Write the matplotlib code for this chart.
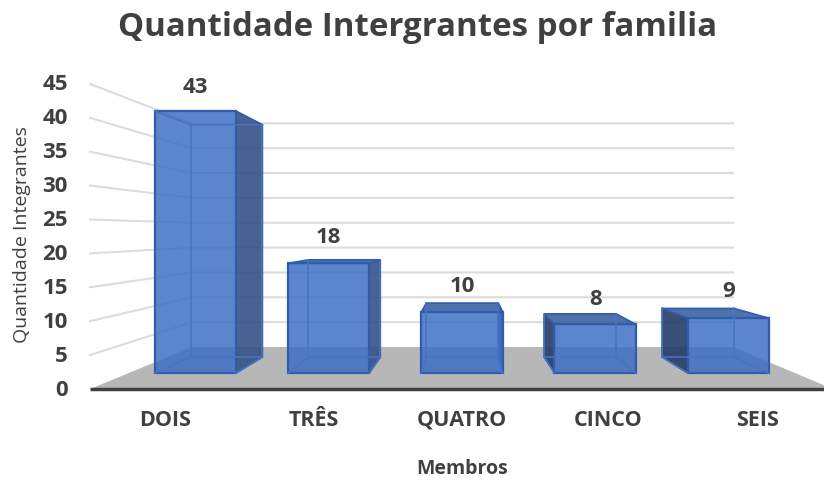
import matplotlib
matplotlib.use('Agg')
import matplotlib.pyplot as plt
from matplotlib.colors import to_rgba
from matplotlib.patches import Polygon

categories = ['DOIS', 'TRÊS', 'QUATRO', 'CINCO', 'SEIS']
values = [43, 18, 10, 8, 9]
y_ticks = [0, 5, 10, 15, 20, 25, 30, 35, 40, 45]

plt.rcParams['font.family'] = ['Open Sans', 'DejaVu Sans']
text_col = '#404040'

fig = plt.figure(figsize=(8.24, 4.8), dpi=100)
ax = fig.add_axes([0, 0, 1, 1])
ax.set_xlim(0, 824)
ax.set_ylim(480, 0)
ax.axis('off')


# perspective: u = 0..1 across, v = value, t = 0 (front) .. 1 (back wall)
def proj(u, v, t):
    left = 90 + t * (192 - 90)
    right = 833 + t * (733 - 833)
    base = 389 + t * (347 - 389)
    scale = 6.78 + t * (4.97 - 6.78)
    return (left + u * (right - left), base - v * scale)


# floor
ax.add_patch(Polygon([proj(0, 0, 0), proj(0, 0, 1), proj(1, 0, 1), proj(1, 0, 0)],
                     fc='#b7b7b7', ec='none', zorder=1))

# gridlines, back wall + left wall
for v in y_ticks[1:]:
    pts = [proj(0, v, 0), proj(0, v, 1), proj(1, v, 1)]
    ax.plot([p[0] for p in pts], [p[1] for p in pts], color='#dcdcdc', lw=1.5, zorder=1)

# axis line
ax.plot([90, 824], [389, 389], color='#404040', lw=2.5, zorder=2, solid_capstyle='butt')

edge = '#2f5cab'
inner = '#4674c4'
face = to_rgba('#3c6ec3', 0.84)
bar_w = 0.122
t_front = 0.38
t_back = 0.76
label_gap = [24, 22, 17, 14, 17]

for i, val in enumerate(values):
    u0 = 0.1 + 0.2 * i - bar_w / 2
    u1 = u0 + bar_w
    # corners: f = front, b = back, l/r, d = floor, h = top
    fld = proj(u0, 0, t_front)
    frd = proj(u1, 0, t_front)
    bld = proj(u0, 0, t_back)
    brd = proj(u1, 0, t_back)
    flh = proj(u0, val, t_front)
    frh = proj(u1, val, t_front)
    blh = proj(u0, val, t_back)
    brh = proj(u1, val, t_back)

    # translucent faces so the floor and the grid show through
    if i <= 2:
        ax.add_patch(Polygon([frd, brd, brh, frh], fc=to_rgba('#345285', 0.9), ec=edge, lw=1.2, zorder=4))
    if i >= 3:
        ax.add_patch(Polygon([fld, bld, blh, flh], fc=to_rgba('#243c69', 0.9), ec=edge, lw=1.2, zorder=4))
    if i >= 1:
        ax.add_patch(Polygon([flh, frh, brh, blh], fc=to_rgba('#466aa6', 0.95), ec=edge, lw=1.2, zorder=4))
    ax.add_patch(Polygon([fld, frd, frh, flh], fc=face, ec=edge, lw=1.6, zorder=5))
    if i == 0:
        # top seen from below, only the inner edges show
        ax.plot([flh[0], blh[0], brh[0]], [flh[1], blh[1], brh[1]], color=inner, lw=1.1, zorder=6)
    # back edges show through the front face
    ax.plot([bld[0], blh[0]], [bld[1], blh[1]], color=inner, lw=1.1, zorder=6)
    ax.plot([brd[0], brh[0]], [brd[1], brh[1]], color=inner, lw=1.1, zorder=6)
    ax.plot([bld[0], brd[0]], [bld[1], brd[1]], color=inner, lw=1.1, zorder=6)
    ax.plot([fld[0], bld[0]], [fld[1], bld[1]], color=inner, lw=1.1, zorder=6)
    ax.plot([frd[0], brd[0]], [frd[1], brd[1]], color=inner, lw=1.1, zorder=6)

    top = min(flh[1], blh[1])
    ax.text((fld[0] + frd[0]) / 2, top - label_gap[i], str(val), ha='center', va='center',
            fontsize=16, fontweight='bold', color=text_col, zorder=7)

# tick labels
for v in y_ticks:
    ax.text(68, proj(0, v, 0)[1] + 1, str(v), ha='right', va='center',
            fontsize=16, fontweight='bold', color=text_col)

cat_x = [165, 314, 462, 608, 758]
for x, c in zip(cat_x, categories):
    ax.text(x, 420, c, ha='center', va='center', fontsize=15.5, fontweight='bold', color=text_col)

ax.text(418, 27, 'Quantidade Intergrantes por familia', ha='center', va='center',
        fontsize=23.8, fontweight='bold', color=text_col)
ax.text(462, 469, 'Membros', ha='center', va='center', fontsize=14, fontweight='bold', color=text_col)
ax.text(22, 235, 'Quantidade Integrantes', ha='center', va='center', rotation=90,
        fontsize=14, color=text_col)

fig.savefig('out.png', dpi=100)
